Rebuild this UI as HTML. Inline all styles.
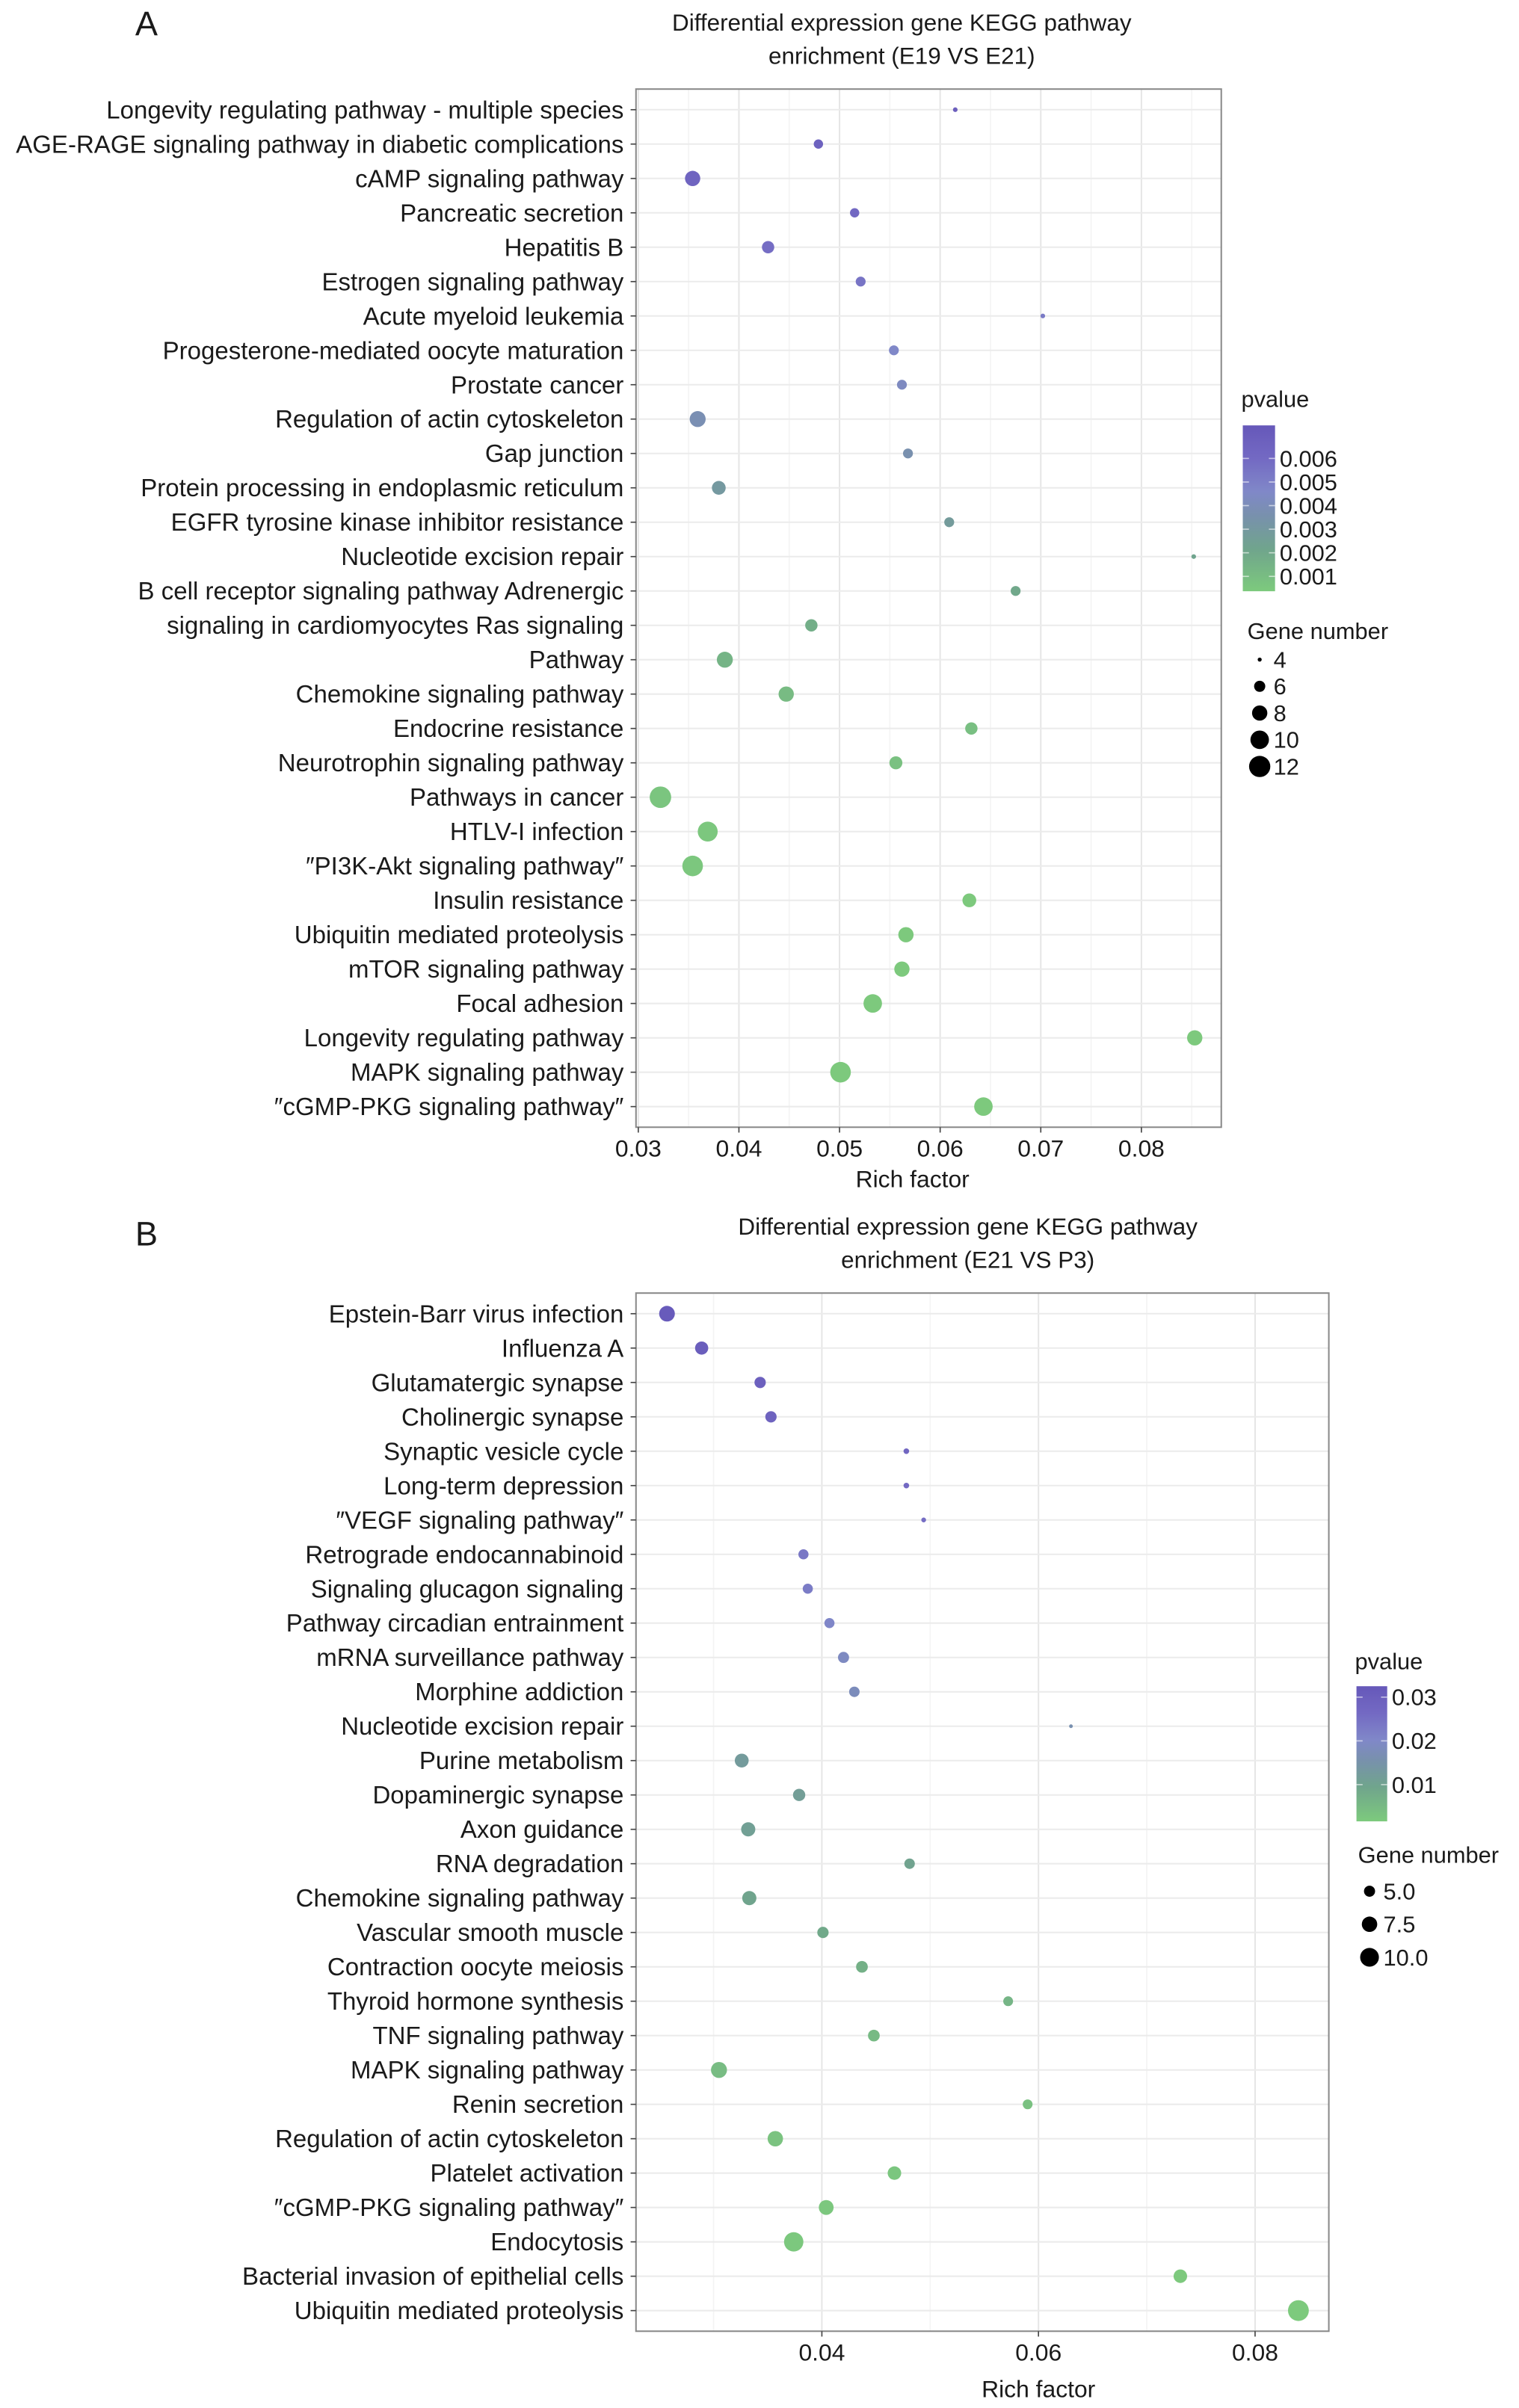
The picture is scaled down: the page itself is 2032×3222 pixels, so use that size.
<!DOCTYPE html>
<html><head><meta charset="utf-8"><title>KEGG enrichment bubble charts</title>
<style>
html,body{margin:0;padding:0;background:#fff;}
svg{display:block;}
text{font-family:"Liberation Sans",Arial,sans-serif;fill:#1a1a1a;}
</style></head>
<body>
<svg id="fig" xmlns="http://www.w3.org/2000/svg" width="2032" height="3222" viewBox="0 0 988.8 1568" preserveAspectRatio="none"></svg>
<script>
// ---------- Panel A data ----------
const aLabels = ["Longevity regulating pathway - multiple species","AGE-RAGE signaling pathway in diabetic complications","cAMP signaling pathway","Pancreatic secretion","Hepatitis B","Estrogen signaling pathway","Acute myeloid leukemia","Progesterone-mediated oocyte maturation","Prostate cancer","Regulation of actin cytoskeleton","Gap junction","Protein processing in endoplasmic reticulum","EGFR tyrosine kinase inhibitor resistance","Nucleotide excision repair","B cell receptor signaling pathway Adrenergic","signaling in cardiomyocytes Ras signaling","Pathway","Chemokine signaling pathway","Endocrine resistance","Neurotrophin signaling pathway","Pathways in cancer","HTLV-I infection","\u2033PI3K-Akt signaling pathway\u2033","Insulin resistance","Ubiquitin mediated proteolysis","mTOR signaling pathway","Focal adhesion","Longevity regulating pathway","MAPK signaling pathway","\u2033cGMP-PKG signaling pathway\u2033"];
const aRich = [0.0615,0.0479,0.0354,0.0515,0.0429,0.0521,0.0702,0.0554,0.0562,0.0359,0.0568,0.0380,0.0609,0.0852,0.0675,0.0472,0.0386,0.0447,0.0631,0.0556,0.0322,0.0369,0.0354,0.0629,0.0566,0.0562,0.0533,0.0853,0.0501,0.0643];
const aPval = [0.0068,0.0066,0.0064,0.0061,0.0058,0.0055,0.0052,0.0046,0.0043,0.0038,0.0036,0.0030,0.0028,0.0022,0.0020,0.0017,0.0014,0.0011,0.0009,0.0008,0.0006,0.0005,0.0005,0.0004,0.0004,0.0004,0.0004,0.0004,0.0004,0.0004];
const aGenes = [4.1,5.3,8.0,5.3,6.5,5.5,4.1,5.5,5.5,8.4,5.5,7.2,5.5,4.1,5.5,6.5,8.4,8.0,6.5,6.8,12.2,11,11.5,7.2,8,8,10,8,11.5,10];
const aXTicks = [0.03,0.04,0.05,0.06,0.07,0.08];
const aPTicks = [0.006,0.005,0.004,0.003,0.002,0.001];
const aSizeTicks = [4,6,8,10,12];

// ---------- Panel B data ----------
const bLabels = ["Epstein-Barr virus infection","Influenza A","Glutamatergic synapse","Cholinergic synapse","Synaptic vesicle cycle","Long-term depression","\u2033VEGF signaling pathway\u2033","Retrograde endocannabinoid","Signaling glucagon signaling","Pathway circadian entrainment","mRNA surveillance pathway","Morphine addiction","Nucleotide excision repair","Purine metabolism","Dopaminergic synapse","Axon guidance","RNA degradation","Chemokine signaling pathway","Vascular smooth muscle","Contraction oocyte meiosis","Thyroid hormone synthesis","TNF signaling pathway","MAPK signaling pathway","Renin secretion","Regulation of actin cytoskeleton","Platelet activation","\u2033cGMP-PKG signaling pathway\u2033","Endocytosis","Bacterial invasion of epithelial cells","Ubiquitin mediated proteolysis"];
const bRich = [0.0257,0.0289,0.0343,0.0353,0.0478,0.0478,0.0494,0.0383,0.0387,0.0407,0.0420,0.0430,0.0630,0.0326,0.0379,0.0332,0.0481,0.0333,0.0401,0.0437,0.0572,0.0448,0.0305,0.0590,0.0357,0.0467,0.0404,0.0374,0.0731,0.0840];
const bPval = [0.0315,0.0305,0.0295,0.0285,0.0275,0.0265,0.0255,0.0235,0.0225,0.0205,0.0190,0.0180,0.0160,0.0125,0.0115,0.0110,0.0100,0.0095,0.0085,0.0070,0.0060,0.0050,0.0045,0.0035,0.0030,0.0025,0.0022,0.0020,0.0018,0.0017];
const bGenes = [7.7,6.1,5.1,5.1,3.0,3.0,2.8,4.55,4.55,4.55,5.0,4.7,2.6,6.5,5.6,6.7,4.7,6.7,5.1,5.3,4.4,5.3,7.9,4.4,7.5,6.3,7.1,10.5,6.3,11.8];
const bXTicks = [0.04,0.06,0.08];
const bPTicks = [0.03,0.02,0.01];
const bSizeTicks = [5,7.5,10];
const bSizeTickText = ["5.0","7.5","10.0"];

const NS = "http://www.w3.org/2000/svg";
const svg = document.getElementById("fig");
function mk(tag, attrs, parent){
  const e = document.createElementNS(NS, tag);
  for (const k in attrs) e.setAttribute(k, attrs[k]);
  (parent||svg).appendChild(e);
  return e;
}
const stops = [[0,[125,202,125]],[0.25,[112,165,140]],[0.45,[120,145,172]],[0.6,[128,136,200]],[0.8,[115,105,195]],[1,[102,88,185]]];
function colorAt(t){
  t = Math.max(0,Math.min(1,t));
  for (let i=1;i<stops.length;i++){
    if (t<=stops[i][0]){
      const a=stops[i-1], b=stops[i], f=(t-a[0])/(b[0]-a[0]);
      const c=a[1].map((v,j)=>Math.round(v+(b[1][j]-v)*f));
      return "rgb("+c.join(",")+")";
    }
  }
  return "rgb(102,88,185)";
}

function panel(cfg){
  const g = mk("g", {});
  
  
  const L=cfg.left,R=cfg.right,T=cfg.top,B=cfg.bottom;
  const xs = v => L + (v-cfg.xmin)/(cfg.xmax-cfg.xmin)*(R-L);
  const n = cfg.labels.length;
  const step = (B-T)/(n-1+1.2);
  const ys = i => T + (0.6+i)*step;
  const col = p => colorAt((p-cfg.pmin)/(cfg.pmax-cfg.pmin));
  const bg = mk("rect",{x:L,y:T,width:R-L,height:B-T,fill:"#fff"},g);
  
  
  const dt = cfg.xticks[1]-cfg.xticks[0];
  for (let v=cfg.xticks[0]-dt*1.5; v<=cfg.xmax; v+=dt){
    const x=xs(v);
    if (x>L && x<R){ const gl=mk("line",{x1:x,x2:x,y1:T,y2:B,stroke:"#f4f4f4","stroke-width":0.8},g);
        }
  }
  cfg.xticks.forEach(v=>{
    const gl=mk("line",{x1:xs(v),x2:xs(v),y1:T,y2:B,stroke:"#e6e6e6","stroke-width":1},g);
    
    
  });
  for (let i=0;i<n;i++){
    const gl=mk("line",{x1:L,x2:R,y1:ys(i),y2:ys(i),stroke:"#ebebeb","stroke-width":1},g);
    
    
  }
  const bd=mk("rect",{x:L,y:T,width:R-L,height:B-T,fill:"none",stroke:"#8a8a8a","stroke-width":1},g);
  
  
  for (let i=0;i<n;i++){
    const tk=mk("line",{x1:L-3.5,x2:L,y1:ys(i),y2:ys(i),stroke:"#444","stroke-width":0.8},g);
    
    
    const t=mk("text",{transform:"translate("+(L-8)+","+(ys(i)+5.6)+") scale(0.98,1)","text-anchor":"end","font-size":16.4},g);
    t.textContent=cfg.labels[i];
    
    
  }
  cfg.xticks.forEach((v,i)=>{
    const tk=mk("line",{x1:xs(v),x2:xs(v),y1:B,y2:B+3.5,stroke:"#444","stroke-width":0.8},g);
    
    
    const t=mk("text",{transform:"translate("+xs(v)+","+(B+19)+")","text-anchor":"middle","font-size":15.5},g);
    t.textContent=String(v);
    
    
  });
  const xt=mk("text",{transform:"translate("+cfg.xtitleX+","+(B+cfg.xtitleDy)+")","text-anchor":"middle","font-size":15.5},g);
  xt.textContent="Rich factor";
  
  
  for (let i=0;i<n;i++){
    const c=mk("circle",{cx:xs(cfg.rich[i]),cy:ys(i),r:cfg.rad(cfg.genes[i]),fill:col(cfg.p[i])},g);
    
    
  }
  cfg.title.forEach((s,i)=>{
    const t=mk("text",{transform:"translate("+cfg.titleX+","+(cfg.titleY+i*21.5)+")","text-anchor":"middle","font-size":15.3},g);
    t.textContent=s;
    
    
  });
  const lt=mk("text",{x:cfg.letterX,y:cfg.letterY,"font-size":22},g);
  lt.textContent=cfg.id==="panel-a"?"A":"B";
  
  
  const lg=cfg.leg;
  const gid=cfg.id+"-grad";
  const defs=mk("defs",{},g);
  const lin=mk("linearGradient",{id:gid,x1:0,y1:1,x2:0,y2:0},defs);
  for (let k=0;k<=20;k++){ mk("stop",{offset:k/20,"stop-color":colorAt(k/20)},lin); }
  const pt=mk("text",{x:lg.barX-1,y:lg.pTitleY,"font-size":15},g);
  pt.textContent="pvalue";
  
  
  const bar=mk("rect",{x:lg.barX,y:lg.barTop,width:lg.barW,height:lg.barBot-lg.barTop,fill:"url(#"+gid+")"},g);
  
  
  const py = p => lg.barBot - (p-cfg.pmin)/(cfg.pmax-cfg.pmin)*(lg.barBot-lg.barTop);
  cfg.pticks.forEach(p=>{
    mk("line",{x1:lg.barX,x2:lg.barX+4,y1:py(p),y2:py(p),stroke:"#fff","stroke-opacity":0.6,"stroke-width":0.8},g);
    mk("line",{x1:lg.barX+lg.barW-4,x2:lg.barX+lg.barW,y1:py(p),y2:py(p),stroke:"#fff","stroke-opacity":0.6,"stroke-width":0.8},g);
    const t=mk("text",{x:lg.barX+lg.barW+3,y:py(p)+5.3,"font-size":15},g);
    t.textContent=String(p);
    
    
  });
  const st=mk("text",{x:lg.sTitleX,y:lg.sTitleY,"font-size":15},g);
  st.textContent="Gene number";
  
  
  cfg.sizeTicks.forEach((s,i)=>{
    const y=lg.sY0+i*lg.sStep;
    const c=mk("circle",{cx:lg.dotX,cy:y,r:cfg.rad(s),fill:"#000"},g);
    
    
    const t=mk("text",{x:lg.dotX+9,y:y+5.3,"font-size":15},g);
    t.textContent=cfg.sizeText[i];
    
    
  });
}

panel({id:"panel-a",labels:aLabels,rich:aRich,p:aPval,genes:aGenes,xticks:aXTicks,
  left:414,right:795,top:58,bottom:734,xmin:0.03-1.5/6550,xmax:0.03+379.5/6550,
  pmin:0.00037,pmax:0.0074,rad:n=>2.4*Math.sqrt(Math.max(n-3.7,0.17)),
  xtitleX:594,xtitleDy:39,title:["Differential expression gene KEGG pathway","enrichment (E19 VS E21)"],titleX:587,titleY:20,
  letterX:88,letterY:23,pticks:aPTicks,sizeTicks:aSizeTicks,sizeText:aSizeTicks.map(String),
  leg:{barX:809,barW:21,barTop:277,barBot:385,pTitleY:265,sTitleX:812,sTitleY:416,dotX:820,sY0:429.5,sStep:17.4}});

panel({id:"panel-b",labels:bLabels,rich:bRich,p:bPval,genes:bGenes,xticks:bXTicks,
  left:414,right:865,top:842,bottom:1518,xmin:0.04-121/7050,xmax:0.04+330/7050,
  pmin:0.0016,pmax:0.0325,rad:n=>2.2*Math.sqrt(Math.max(n-2.3,0.3)),
  xtitleX:676,xtitleDy:43,title:["Differential expression gene KEGG pathway","enrichment (E21 VS P3)"],titleX:630,titleY:804,
  letterX:88,letterY:811,pticks:bPTicks,sizeTicks:bSizeTicks,sizeText:bSizeTickText,
  leg:{barX:883,barW:20,barTop:1098,barBot:1186,pTitleY:1087,sTitleX:884,sTitleY:1213,dotX:891.5,sY0:1231.5,sStep:21.5}});
</script>
</body></html>
